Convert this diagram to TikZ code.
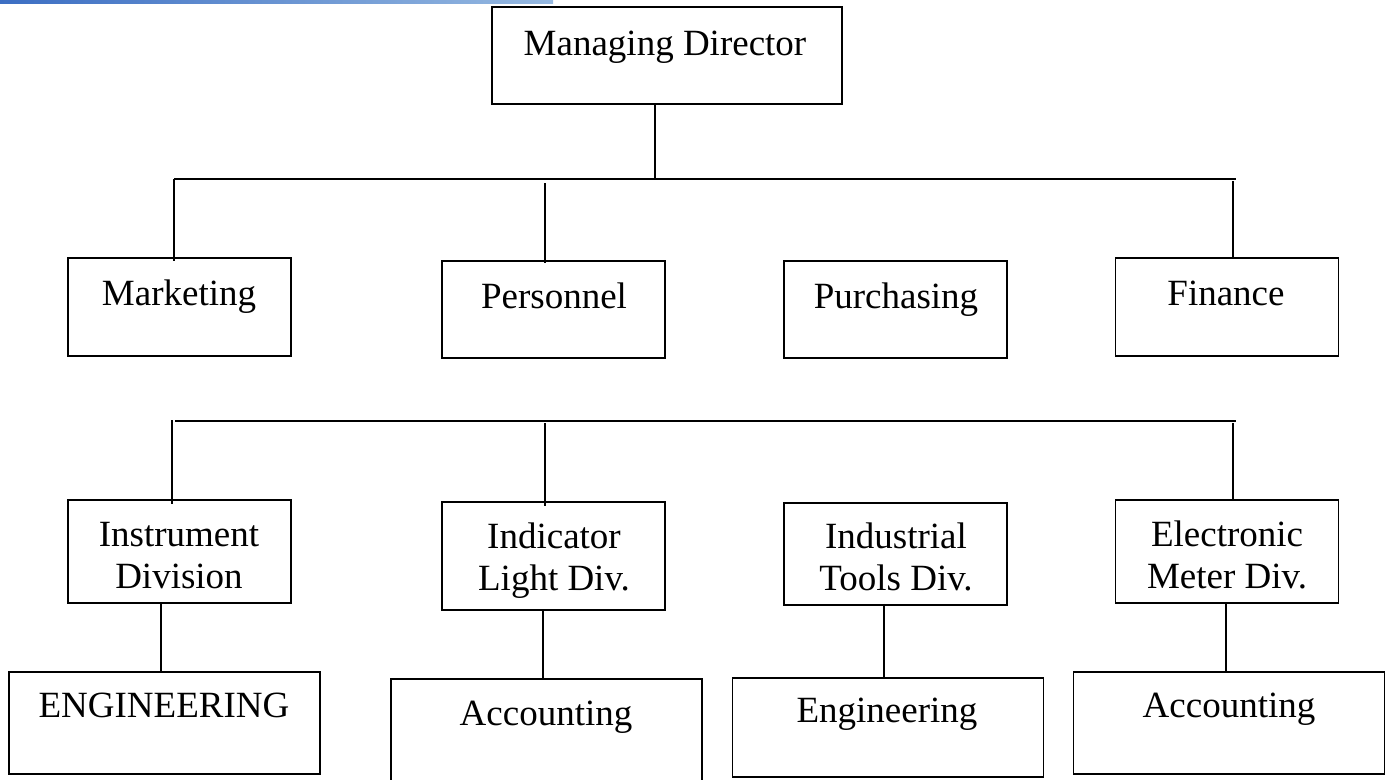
\documentclass[tikz,border=0pt]{standalone}
\usepackage{fontspec}
\setmainfont{Liberation Serif}
\begin{document}
\begin{tikzpicture}[x=1pt,y=-1pt,
  box/.style={draw=black, line width=1.8pt, rectangle, inner sep=0pt, minimum width=223pt},
  widebox/.style={box, minimum width=311pt},
  txt/.style={inner sep=0pt, anchor=base, align=center, font=\fontsize{37}{42}\selectfont},
  conn/.style={draw=black, line width=1.5pt}]
\useasboundingbox (0,0) rectangle (1388,779);
\clip (0,0) rectangle (1388,779);
\fill[white] (0,0) rectangle (1388,779);
% header rule
\shade[left color={rgb,255:red,60;green,110;blue,195}, right color={rgb,255:red,150;green,185;blue,225}] (0,0) rectangle (553,3.5);

% top
\node[box, minimum width=350pt, minimum height=97pt] (md) at (667,55.5) {};
\node[txt] (tmd) at (665,55) {Managing Director};

% row 1
\node[box, minimum height=98pt] (mkt) at (179.5,307) {};
\node[txt] (tmkt) at (179,305) {Marketing};
\node[box, minimum height=97pt] (per) at (553.5,309.5) {};
\node[txt] (tper) at (554,308) {Personnel};
\node[box, minimum height=97pt] (pur) at (895.5,309.5) {};
\node[txt] (tpur) at (896,308) {Purchasing};
\node[box, minimum height=98pt] (fin) at (1227,307) {};
\node[txt] (tfin) at (1226,305) {Finance};

% row 2 (base anchor = baseline of the last line)
\node[box, minimum height=103pt] (ins) at (179.5,551.5) {};
\node[txt] (tins) at (179,588) {Instrument\\Division};
\node[box, minimum height=108pt] (ind) at (553.5,556) {};
\node[txt] (tind) at (554,590) {Indicator\\Light Div.};
\node[box, minimum height=102pt] (inu) at (895.5,554) {};
\node[txt] (tinu) at (896,590) {Industrial\\Tools Div.};
\node[box, minimum height=103pt] (ele) at (1227,551.5) {};
\node[txt] (tele) at (1227,588) {Electronic\\Meter Div.};

% row 3
\node[widebox, minimum height=102pt] (eng1) at (164.5,723) {};
\node[txt] (teng1) at (164,717) {ENGINEERING};
\node[widebox, minimum height=102pt] (acc1) at (546.5,730) {};
\node[txt] (tacc1) at (546,725) {Accounting};
\node[widebox, minimum height=99pt] (eng2) at (888,727.5) {};
\node[txt] (teng2) at (887,722) {Engineering};
\node[widebox, minimum height=102pt] (acc2) at (1229,723) {};
\node[txt] (tacc2) at (1229,717) {Accounting};

% junction coordinates
\coordinate (j0) at (655,179);
\coordinate (bl1) at (174,179);
\coordinate (br1) at (1236,179);
\coordinate (jp) at (545,183);
\coordinate (jf) at (1233,181);
\coordinate (bl2) at (175,421);
\coordinate (br2) at (1236,421);
\coordinate (ji) at (172,420);
\coordinate (jd) at (545,423);
\coordinate (je) at (1233,423);

% connectors
\draw[conn] (j0 |- md.south) -- (j0);
\draw[conn] (bl1) -- (br1);
\draw[conn] (bl1) -- ([yshift=-4pt]bl1 |- mkt.north);
\draw[conn] (jp) -- ([yshift=-3pt]jp |- per.north);
\draw[conn] (jf) -- ([yshift=-2pt]jf |- fin.north);

\draw[conn] (bl2) -- (br2);
\draw[conn] (ji) -- ([yshift=-5pt]ji |- ins.north);
\draw[conn] (jd) -- ([yshift=-5pt]jd |- ind.north);
\draw[conn] (je) -- ([yshift=-2pt]je |- ele.north);

\draw[conn] (161,0 |- ins.south) -- (161,0 |- eng1.north);
\draw[conn] (543,0 |- ind.south) -- (543,0 |- acc1.north);
\draw[conn] ([yshift=2pt]884,0 |- inu.south) -- (884,0 |- eng2.north);
\draw[conn] (1226,0 |- ele.south) -- (1226,0 |- acc2.north);
\end{tikzpicture}
\end{document}
